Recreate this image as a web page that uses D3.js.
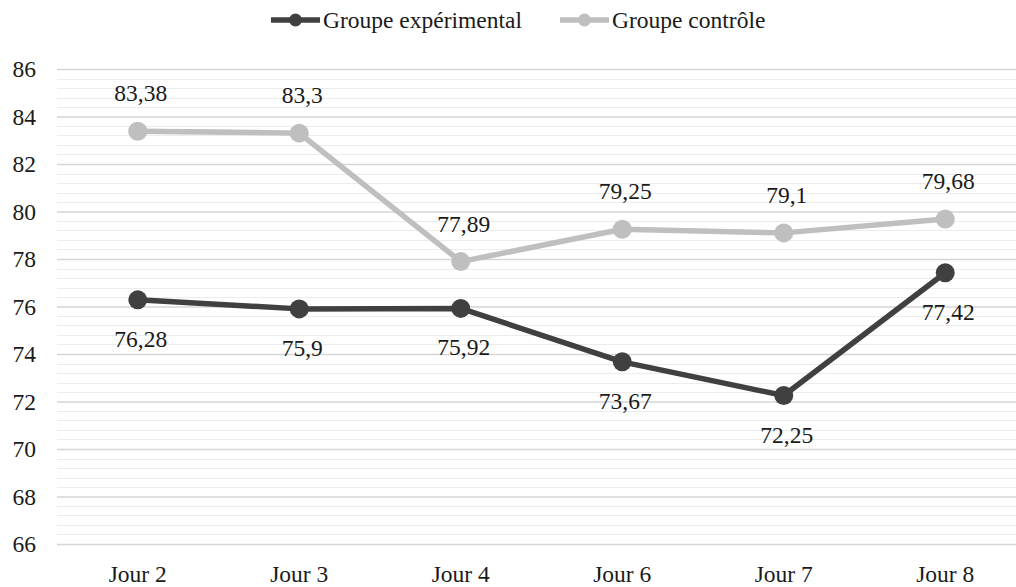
<!DOCTYPE html>
<html>
<head>
<meta charset="utf-8">
<script src="https://cdn.jsdelivr.net/npm/d3@7"></script>
<style>
  html, body { margin: 0; padding: 0; background: #fff; }
  svg { display: block; }
  svg text { font-family: "Liberation Serif", "DejaVu Serif", serif !important; }
</style>
</head>
<body>
<svg id="chart" width="1016" height="587"></svg>
<script>
// Days of measurement and mean score per group
const days = ["Jour 2", "Jour 3", "Jour 4", "Jour 6", "Jour 7", "Jour 8"];
const experimental = [76.28, 75.9, 75.92, 73.67, 72.25, 77.42];
const control = [83.38, 83.3, 77.89, 79.25, 79.1, 79.68];
const yTicks = [66, 68, 70, 72, 74, 76, 78, 80, 82, 84, 86];
const seriesNames = ["Groupe expérimental", "Groupe contrôle"];

const svg = d3.select("#chart");
const margin = { left: 57, right: -10, top: 69, bottom: 43 };
const W = 1016, H = 587;
const FS = 23.5;

const x = d3.scaleBand()
  .domain(days)
  .range([margin.left, W - margin.right]);
const y = d3.scaleLinear()
  .domain([66, 86])
  .range([H - margin.bottom, margin.top]);

const fmt = v => String(v).replace(".", ",");
const cx = d => x(d) + x.bandwidth() / 2;

// minor gridlines (every 0.4)
const minor = d3.range(66, 86.001, 0.4).filter(v => Math.abs(v / 2 - Math.round(v / 2)) > 1e-6);
svg.append("g")
  .selectAll("line")
  .data(minor)
  .join("line")
  .attr("x1", margin.left).attr("x2", W)
  .attr("y1", d => Math.round(y(d)) + 0.5).attr("y2", d => Math.round(y(d)) + 0.5)
  .attr("stroke", "#ececec").attr("stroke-width", 1);

// major gridlines with value labels
const yAxis = d3.axisLeft(y).tickValues(yTicks).tickSize(-(W - margin.left)).tickPadding(21);
const gy = svg.append("g")
  .attr("transform", `translate(${margin.left},0)`)
  .call(yAxis);
gy.select(".domain").remove();
gy.selectAll(".tick line").attr("stroke", "#d6d6d6").attr("stroke-width", 1.3);
gy.selectAll(".tick text")
  .attr("fill", "#1a1a1a")
  .attr("font-size", FS);

// category labels
const xAxis = d3.axisBottom(x).tickSize(0).tickPadding(21);
const gx = svg.append("g")
  .attr("transform", `translate(0,${y(66)})`)
  .call(xAxis);
gx.select(".domain").remove();
gx.selectAll(".tick text")
  .attr("fill", "#1a1a1a")
  .attr("font-size", FS);

const series = [
  { name: seriesNames[1], values: control, color: "#bfbfbf", labelDy: -30 },
  { name: seriesNames[0], values: experimental, color: "#404040", labelDy: 47 }
];

const line = d3.line()
  .x((d, i) => cx(days[i]))
  .y(d => y(d));

series.forEach(s => {
  const g = svg.append("g");
  g.append("path")
    .datum(s.values)
    .attr("d", line)
    .attr("fill", "none")
    .attr("stroke", s.color)
    .attr("stroke-width", 5.5)
    .attr("stroke-linejoin", "round");
  g.selectAll("circle")
    .data(s.values)
    .join("circle")
    .attr("cx", (d, i) => cx(days[i]))
    .attr("cy", d => y(d))
    .attr("r", 9.5)
    .attr("fill", s.color);
  g.selectAll("text")
    .data(s.values)
    .join("text")
    .attr("x", (d, i) => cx(days[i]) + 3)
    .attr("y", d => y(d) + s.labelDy)
    .attr("text-anchor", "middle")
    .attr("font-size", FS)
    .attr("fill", "#1a1a1a")
    .text(d => fmt(d));
});

// legend
const legendItems = [
  { name: seriesNames[0], color: "#404040", x0: 271 },
  { name: seriesNames[1], color: "#bfbfbf", x0: 560 }
];
const lg = svg.append("g");
legendItems.forEach(it => {
  lg.append("line")
    .attr("x1", it.x0).attr("x2", it.x0 + 49)
    .attr("y1", 20).attr("y2", 20)
    .attr("stroke", it.color).attr("stroke-width", 5.5);
  lg.append("circle")
    .attr("cx", it.x0 + 24.5).attr("cy", 20).attr("r", 6.5)
    .attr("fill", it.color);
  lg.append("text")
    .attr("x", it.x0 + 52).attr("y", 28)
    .attr("font-size", FS)
    .attr("fill", "#1a1a1a")
    .text(it.name);
});
</script>
</body>
</html>
